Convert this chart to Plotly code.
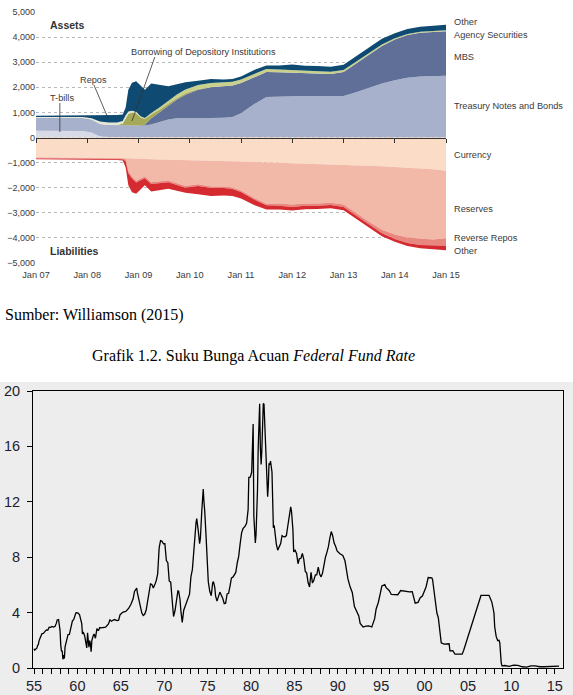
import plotly.graph_objects as go

W, H = 573, 695


def X(px):
    return px / W


def Y(py):
    return 1 - py / H


# ---------------- Top chart: Federal Reserve balance sheet ($ billions) ----------------
dates = ["2007-01-01", "2007-07-01", "2007-12-01", "2008-02-01", "2008-04-01", "2008-06-01",
         "2008-08-01", "2008-09-10", "2008-10-01", "2008-10-20", "2008-11-15", "2008-12-15",
         "2009-01-15", "2009-02-15", "2009-04-01", "2009-06-01", "2009-08-01", "2009-10-01",
         "2009-12-01", "2010-03-01", "2010-06-01", "2010-09-01", "2010-11-01", "2011-01-01",
         "2011-04-01", "2011-07-01", "2011-10-01", "2012-01-01", "2012-04-01", "2012-07-01",
         "2012-10-01", "2013-01-01", "2013-04-01", "2013-07-01", "2013-10-01", "2014-01-01",
         "2014-04-01", "2014-07-01", "2014-10-01", "2015-01-01"]

# Assets (stacked from the bottom)
tbills = [270, 270, 260, 200, 40, 20, 20, 20, 20, 20, 20, 20, 18, 18, 18, 18, 18, 18, 18, 18,
          18, 18, 18, 18, 18, 18, 18, 18, 0, 0, 0, 0, 0, 0, 0, 0, 0, 0, 0, 0]
treasury = [520, 520, 520, 520, 500, 480, 475, 475, 475, 475, 475, 475, 465, 460, 500, 600,
            700, 750, 760, 760, 760, 765, 800, 950, 1300, 1600, 1620, 1630, 1650, 1650, 1640,
            1650, 1800, 1980, 2150, 2280, 2380, 2430, 2450, 2460]
mbs = [0, 0, 0, 0, 0, 0, 0, 0, 0, 0, 0, 0, 0, 40, 250, 400, 560, 750, 930, 1120, 1220, 1250,
       1250, 1200, 1080, 990, 960, 930, 920, 900, 890, 960, 1150, 1330, 1500, 1620, 1700, 1740,
       1760, 1770]
borrowing = [0, 0, 0, 0, 0, 0, 0, 60, 300, 450, 500, 470, 320, 220, 150, 100, 80, 60, 50, 30,
             15, 5, 0, 0, 0, 0, 0, 0, 0, 0, 0, 0, 0, 0, 0, 0, 0, 0, 0, 0]
repos = [30, 30, 40, 50, 100, 100, 100, 100, 90, 80, 60, 40, 20, 0, 0, 0, 0, 0, 0, 0, 0, 0, 0,
         0, 0, 0, 0, 0, 0, 0, 0, 0, 0, 0, 0, 0, 0, 0, 0, 0]
agency = [0, 0, 0, 0, 0, 0, 0, 0, 5, 10, 15, 20, 25, 35, 60, 90, 115, 135, 150, 165, 160, 155,
          150, 145, 130, 120, 112, 105, 95, 90, 85, 76, 70, 63, 57, 52, 46, 42, 40, 38]
other_assets = [50, 55, 65, 110, 245, 290, 305, 265, 310, 865, 1110, 1215, 1202, 1127, 1172,
                872, 567, 407, 292, 167, 157, 117, 112, 117, 152, 142, 160, 227, 195, 210, 205,
                214, 230, 207, 223, 198, 194, 198, 200, 222]

# Liabilities (magnitudes, stacked downward from zero)
currency = [790, 795, 805, 800, 805, 810, 815, 820, 825, 830, 840, 850, 860, 865, 870, 880, 885,
            890, 900, 910, 920, 930, 940, 955, 975, 990, 1005, 1025, 1040, 1055, 1070, 1090,
            1110, 1130, 1150, 1180, 1205, 1230, 1260, 1320]
reserves = [15, 15, 15, 15, 15, 15, 15, 15, 45, 500, 710, 870, 770, 690, 915, 885, 830, 935,
            1030, 950, 1030, 1025, 1055, 1160, 1425, 1645, 1625, 1645, 1590, 1575, 1525, 1580,
            1910, 2230, 2530, 2680, 2775, 2800, 2800, 2690]
reverse_repos = [30, 30, 30, 30, 30, 30, 35, 35, 80, 90, 80, 70, 70, 65, 65, 65, 65, 65, 70, 70,
                 60, 55, 55, 55, 60, 65, 90, 100, 90, 90, 95, 100, 100, 100, 130, 180, 220, 250,
                 250, 300]
other_liab = [35, 35, 35, 35, 35, 35, 35, 50, 250, 480, 550, 450, 350, 280, 300, 250, 260, 230,
              200, 330, 320, 300, 280, 260, 220, 170, 150, 140, 140, 130, 130, 130, 130, 120,
              120, 110, 120, 130, 140, 180]

top_years = list(range(2007, 2016))
top_ticktext = ["Jan %02d" % (y % 100) for y in top_years]
bal_ticks = list(range(-5000, 5001, 1000))
bal_ticktext = [("\u2212" if v < 0 else "") + "{:,}".format(abs(v)) for v in bal_ticks]

# ---------------- Bottom chart: Federal Funds Rate (%) ----------------
ff_t = [1955.00, 1955.08, 1955.17, 1955.25, 1955.33, 1955.42, 1955.50, 1955.58, 1955.67, 1955.75,
        1955.83, 1955.92, 1956.08, 1956.25, 1956.42, 1956.58, 1956.75, 1956.92, 1957.08, 1957.25,
        1957.42, 1957.58, 1957.67, 1957.83, 1957.92, 1958.00, 1958.08, 1958.17, 1958.25, 1958.33,
        1958.42, 1958.50, 1958.58, 1958.67, 1958.83, 1958.92, 1959.08, 1959.25, 1959.42, 1959.58,
        1959.67, 1959.83, 1959.92, 1960.08, 1960.25, 1960.42, 1960.50, 1960.58, 1960.67, 1960.83,
        1960.92, 1961.08, 1961.17, 1961.25, 1961.33, 1961.42, 1961.50, 1961.58, 1961.67, 1961.83,
        1961.92, 1962.08, 1962.25, 1962.42, 1962.58, 1962.75, 1962.92, 1963.25, 1963.58, 1963.75,
        1963.92, 1964.25, 1964.58, 1964.75, 1964.92, 1965.25, 1965.58, 1965.92, 1966.17, 1966.42,
        1966.58, 1966.83, 1966.92, 1967.08, 1967.25, 1967.42, 1967.58, 1967.75, 1967.92, 1968.17,
        1968.42, 1968.58, 1968.75, 1968.92, 1969.08, 1969.25, 1969.42, 1969.58, 1969.75, 1969.92,
        1970.08, 1970.25, 1970.42, 1970.58, 1970.75, 1970.92, 1971.08, 1971.25, 1971.42, 1971.58,
        1971.67, 1971.83, 1971.92, 1972.08, 1972.25, 1972.42, 1972.58, 1972.75, 1972.92, 1973.08,
        1973.25, 1973.42, 1973.58, 1973.67, 1973.75, 1973.83, 1973.92, 1974.08, 1974.17, 1974.33,
        1974.42, 1974.50, 1974.58, 1974.67, 1974.83, 1974.92, 1975.08, 1975.25, 1975.42, 1975.58,
        1975.67, 1975.83, 1975.92, 1976.08, 1976.25, 1976.42, 1976.58, 1976.75, 1976.92, 1977.08,
        1977.25, 1977.42, 1977.58, 1977.75, 1977.92, 1978.25, 1978.42, 1978.58, 1978.75, 1978.92,
        1979.08, 1979.33, 1979.50, 1979.67, 1979.75, 1979.92, 1980.08, 1980.17, 1980.25, 1980.33,
        1980.42, 1980.50, 1980.58, 1980.67, 1980.75, 1980.83, 1980.92, 1981.00, 1981.08, 1981.17,
        1981.25, 1981.33, 1981.42, 1981.50, 1981.58, 1981.67, 1981.75, 1981.83, 1981.92, 1982.00,
        1982.08, 1982.17, 1982.25, 1982.42, 1982.50, 1982.58, 1982.67, 1982.75, 1982.92, 1983.08,
        1983.25, 1983.42, 1983.58, 1983.75, 1983.92, 1984.08, 1984.25, 1984.42, 1984.58, 1984.67,
        1984.83, 1984.92, 1985.08, 1985.25, 1985.42, 1985.58, 1985.75, 1985.92, 1986.08, 1986.25,
        1986.42, 1986.58, 1986.75, 1986.92, 1987.08, 1987.25, 1987.42, 1987.58, 1987.75, 1987.92,
        1988.08, 1988.25, 1988.42, 1988.58, 1988.75, 1988.92, 1989.08, 1989.25, 1989.42, 1989.58,
        1989.75, 1989.92, 1990.25, 1990.58, 1990.83, 1990.92, 1991.17, 1991.42, 1991.67, 1991.92,
        1992.17, 1992.42, 1992.58, 1992.92, 1993.25, 1993.58, 1993.92, 1994.08, 1994.25, 1994.42,
        1994.67, 1994.92, 1995.08, 1995.42, 1995.58, 1995.92, 1996.17, 1996.58, 1996.92, 1997.25,
        1997.58, 1997.92, 1998.25, 1998.58, 1998.75, 1998.92, 1999.25, 1999.50, 1999.75, 1999.92,
        2000.17, 2000.42, 2000.58, 2000.83, 2000.92, 2001.08, 2001.25, 2001.42, 2001.58, 2001.75,
        2001.92, 2002.25, 2002.58, 2002.83, 2002.92, 2003.25, 2003.50, 2003.92, 2004.33, 2004.50,
        2004.67, 2004.92, 2005.25, 2005.50, 2005.75, 2005.92, 2006.25, 2006.50, 2006.92, 2007.42,
        2007.58, 2007.75, 2007.92, 2008.00, 2008.08, 2008.25, 2008.42, 2008.58, 2008.67, 2008.75,
        2008.83, 2008.92, 2009.25, 2009.75, 2010.25, 2010.75, 2011.25, 2011.75, 2012.25, 2012.75,
        2013.25, 2013.75, 2014.25, 2014.75, 2015.25, 2015.50]
ff_v = [1.39, 1.29, 1.35, 1.43, 1.43, 1.64, 1.68, 1.96, 2.18, 2.24,
        2.35, 2.48, 2.50, 2.62, 2.75, 2.73, 2.95, 2.94, 3.00, 2.96,
        3.00, 3.24, 3.47, 3.50, 2.98, 2.72, 1.67, 1.20, 1.26, 0.63,
        0.93, 0.68, 1.53, 1.76, 2.27, 2.42, 2.43, 2.96, 3.39, 3.50,
        3.76, 3.98, 3.99, 3.97, 3.84, 3.39, 3.21, 2.46, 2.60, 2.33,
        1.98, 1.45, 2.54, 1.62, 1.50, 1.98, 1.73, 1.17, 2.00, 2.35,
        2.46, 2.15, 2.85, 2.69, 2.92, 2.90, 2.93, 2.95, 3.18, 3.48,
        3.38, 3.50, 3.42, 3.45, 3.85, 4.04, 4.08, 4.32, 4.60, 5.00,
        5.53, 5.76, 5.40, 4.94, 4.53, 3.98, 3.79, 3.88, 4.17, 4.98,
        6.07, 6.03, 5.78, 6.02, 6.30, 6.79, 8.67, 9.19, 9.15, 8.97,
        8.98, 7.76, 7.60, 6.29, 6.20, 4.90, 3.72, 4.15, 4.91, 5.57,
        5.55, 4.91, 4.14, 3.29, 4.17, 4.46, 4.87, 5.06, 5.33, 6.58,
        7.12, 8.49, 10.40, 10.50, 10.78, 10.01, 9.95, 8.97, 9.35, 11.31,
        11.93, 12.92, 12.01, 11.34, 9.45, 8.53, 6.24, 5.54, 5.22, 6.13,
        6.24, 5.82, 5.20, 4.83, 5.25, 5.48, 5.25, 5.02, 4.65, 4.68,
        5.35, 5.39, 5.90, 6.51, 6.56, 6.90, 7.60, 8.04, 8.96, 9.76,
        10.06, 10.24, 10.47, 11.43, 13.77, 13.78, 14.13, 17.19, 17.61, 10.98,
        9.47, 9.03, 9.61, 10.87, 12.81, 15.85, 18.90, 19.08, 15.93, 14.70,
        15.72, 18.52, 19.10, 19.04, 17.82, 15.87, 15.08, 13.31, 12.37, 13.22,
        14.78, 14.68, 14.94, 14.15, 12.59, 10.12, 10.31, 9.71, 8.95, 8.51,
        8.80, 8.98, 9.56, 9.48, 9.47, 9.56, 10.29, 11.06, 11.64, 11.30,
        9.99, 8.38, 8.50, 8.27, 7.53, 7.90, 7.92, 8.27, 7.86, 6.99,
        6.85, 6.17, 5.85, 6.91, 6.13, 6.36, 6.73, 6.73, 7.29, 6.77,
        6.58, 6.87, 7.51, 8.00, 8.35, 8.76, 9.36, 9.85, 9.53, 9.02,
        8.79, 8.45, 8.25, 8.13, 7.74, 7.31, 6.43, 5.86, 5.45, 4.43,
        4.06, 3.76, 3.22, 2.96, 3.02, 3.04, 2.96, 3.25, 3.56, 4.26,
        4.73, 5.45, 5.92, 6.02, 5.80, 5.60, 5.31, 5.30, 5.29, 5.59,
        5.54, 5.50, 5.49, 5.51, 5.07, 4.68, 4.74, 5.07, 5.20, 5.45,
        5.85, 6.53, 6.54, 6.51, 6.40, 5.49, 4.80, 3.97, 3.65, 2.49,
        1.82, 1.73, 1.74, 1.75, 1.24, 1.25, 1.01, 0.98, 1.00, 1.26,
        1.61, 2.16, 2.79, 3.26, 3.78, 4.16, 4.79, 5.24, 5.24, 5.25,
        5.02, 4.76, 4.24, 3.94, 2.98, 2.28, 1.98, 2.00, 1.81, 0.97,
        0.39, 0.16, 0.18, 0.12, 0.20, 0.19, 0.09, 0.07, 0.16, 0.16,
        0.09, 0.09, 0.09, 0.10, 0.12, 0.13]
ff_tickvals = list(range(1955, 2016, 5))
ff_ticktext = ["%02d" % (y % 100) for y in ff_tickvals]
ff_yticks = [0, 4, 8, 12, 16, 20]

SANS = "Liberation Sans, Arial, sans-serif"
SERIF = "Liberation Serif, Times New Roman, serif"
LBL = "#3a3a3a"

fig = go.Figure()

asset_series = [
    ("T-bills", tbills, "#d7dbe7"),
    ("Treasury Notes and Bonds", treasury, "#a8b1cb"),
    ("MBS", mbs, "#5f6f98"),
    ("Borrowing of Depository Institutions", borrowing, "#a6aa58"),
    ("Repos", repos, "#e3e7d3"),
    ("Agency Securities", agency, "#c9d08b"),
    ("Other", other_assets, "#0f4a72"),
]
for name, vals, col in asset_series:
    fig.add_trace(go.Scatter(x=dates, y=vals, name=name, mode="lines", stackgroup="assets",
                             line=dict(width=0, color=col), fillcolor=col,
                             xaxis="x", yaxis="y", hoverinfo="skip", showlegend=False))

liab_series = [
    ("Currency", currency, "#fbdcc6"),
    ("Reserves", reserves, "#f2b8a8"),
    ("Reverse Repos", reverse_repos, "#e8877d"),
    ("Other", other_liab, "#d52a2f"),
]
for name, vals, col in liab_series:
    fig.add_trace(go.Scatter(x=dates, y=[-v for v in vals], name=name, mode="lines",
                             stackgroup="liab", line=dict(width=0, color=col), fillcolor=col,
                             xaxis="x", yaxis="y", hoverinfo="skip", showlegend=False))

# invisible trace that carries the zero-line axis with its tick marks
fig.add_trace(go.Scatter(x=[dates[0]], y=[None], xaxis="x2", yaxis="y", mode="lines",
                         showlegend=False, hoverinfo="skip"))

fig.add_trace(go.Scatter(x=ff_t, y=ff_v, mode="lines", line=dict(color="black", width=1.3),
                         xaxis="x3", yaxis="y3", showlegend=False, hoverinfo="skip"))

top_tickvals = ["%d-01-01" % y for y in top_years]

annotations = []
# right-hand labels
for txt, py in [("Other", 22), ("Agency Securities", 35), ("MBS", 57),
                ("Treasury Notes and Bonds", 106), ("Currency", 155), ("Reserves", 209),
                ("Reverse Repos", 238), ("Other", 251)]:
    annotations.append(dict(text=txt, x=X(452), y=Y(py), xref="paper", yref="paper",
                            xanchor="left", yanchor="middle", showarrow=False,
                            font=dict(family=SANS, size=9.2, color=LBL)))
for txt, py in [("Assets", 25), ("Liabilities", 251)]:
    annotations.append(dict(text="<b>%s</b>" % txt, x=X(48), y=Y(py), xref="paper", yref="paper",
                            xanchor="left", yanchor="middle", showarrow=False,
                            font=dict(family=SANS, size=10.5, color="#333333")))
# in-chart labels (data coordinates)
for txt, xd, yv in [("T-bills", "2007-03-25", 1574), ("Repos", "2007-10-27", 2291),
                    ("Borrowing of Depository Institutions", "2008-10-25", 3406)]:
    annotations.append(dict(text=txt, x=xd, y=yv, xref="x", yref="y", xanchor="left",
                            yanchor="middle", showarrow=False,
                            font=dict(family=SANS, size=9.2, color=LBL)))
# captions
annotations.append(dict(text="Sumber: Williamson (2015)", x=X(3), y=Y(315), xref="paper",
                        yref="paper", xanchor="left", yanchor="middle", showarrow=False,
                        font=dict(family=SERIF, size=16, color="black")))
annotations.append(dict(text="Grafik 1.2. Suku Bunga Acuan <i>Federal Fund Rate</i>",
                        x=X(253), y=Y(356), xref="paper", yref="paper", xanchor="center",
                        yanchor="middle", showarrow=False,
                        font=dict(family=SERIF, size=16, color="black")))

shapes = [
    dict(type="rect", xref="paper", yref="paper", x0=0, x1=1, y0=0, y1=Y(382),
         fillcolor="#ededed", line=dict(width=0), layer="below"),
]
for x0, y0, x1, y1 in [("2007-06-20", 1375, "2007-06-20", 219),
                       ("2008-02-18", 2092, "2008-05-28", 777),
                       ("2009-04-27", 3207, "2008-11-15", 657)]:
    shapes.append(dict(type="line", xref="x", yref="y", x0=x0, y0=y0, x1=x1, y1=y1,
                       line=dict(color="#333333", width=0.8)))

fig.update_layout(
    width=W, height=H, autosize=False,
    margin=dict(l=0, r=0, t=0, b=0, pad=0),
    paper_bgcolor="white", plot_bgcolor="white",
    showlegend=False,
    annotations=annotations,
    shapes=shapes,
    xaxis=dict(domain=[X(36), X(446)], anchor="y", type="date", automargin=False,
               range=["2007-01-01", "2015-01-01"], tickmode="array", tickvals=top_tickvals,
               ticktext=top_ticktext, showgrid=False, showline=False, zeroline=False, ticks="",
               ticklabelstandoff=5,
               tickfont=dict(family=SANS, size=9.2, color=LBL)),
    xaxis2=dict(overlaying="x", anchor="free", position=Y(137.5), type="date",
                automargin=False,
                range=["2007-01-01", "2015-01-01"], tickmode="array", tickvals=top_tickvals,
                showticklabels=False, ticks="outside", ticklen=4, tickcolor="#333333",
                showline=True, linecolor="#333333", linewidth=1, showgrid=False,
                zeroline=False),
    yaxis=dict(domain=[Y(263), Y(12)], anchor="x", range=[-5000, 5000], tickmode="array",
               automargin=False,
               tickvals=bal_ticks, ticktext=bal_ticktext, showgrid=True, griddash="dot",
               gridcolor="#b8b8b8", gridwidth=1, zeroline=False, showline=False, ticks="",
               tickfont=dict(family=SANS, size=9, color=LBL)),
    xaxis3=dict(domain=[X(33), X(563)], anchor="y3", range=[1954.885, 2015.95],
                automargin=False,
                tickmode="array", tickvals=ff_tickvals, ticktext=ff_ticktext,
                ticks="outside", ticklen=5, tickcolor="black", showline=True, mirror=True,
                linecolor="black", linewidth=1, showgrid=False, zeroline=False,
                minor=dict(tickmode="array", tickvals=list(range(1955, 2016)),
                           ticks="outside", ticklen=5, tickcolor="black", showgrid=False),
                tickfont=dict(family=SANS, size=14.5, color="#1e1e2e")),
    yaxis3=dict(domain=[Y(668), Y(391)], anchor="x3", range=[0, 20], tickmode="array",
                automargin=False,
                tickvals=ff_yticks, ticks="outside", ticklen=5, tickcolor="black",
                showline=True, mirror=True, linecolor="black", linewidth=1, showgrid=False,
                zeroline=False, ticklabelstandoff=4,
                tickfont=dict(family=SANS, size=14.5, color="#1e1e2e")),
)

fig.write_html("out.html", config={"displayModeBar": False},
               post_script="document.body.style.margin='0';"
                           "document.body.style.overflow='hidden';")
